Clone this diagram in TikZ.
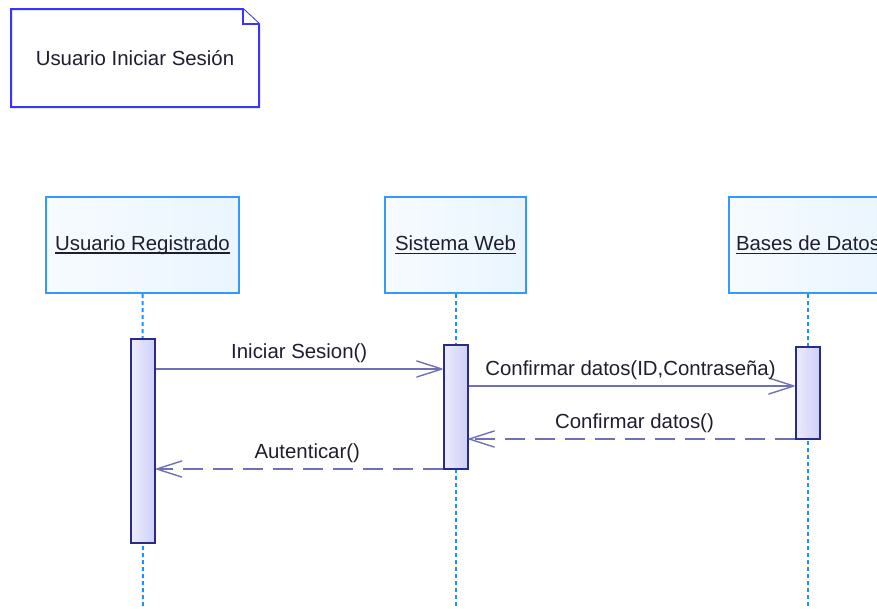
\documentclass[tikz,border=0pt]{standalone}
\usepackage{fontspec}
\setmainfont{Liberation Sans}
\usetikzlibrary{arrows.meta,calc}
\definecolor{notecol}{HTML}{3535FF}
\definecolor{headcol}{HTML}{3399FF}
\definecolor{headl}{HTML}{F7FBFF}
\definecolor{headr}{HTML}{EAF5FF}
\definecolor{lifecol}{HTML}{1E90FF}
\definecolor{actcol}{HTML}{2A2A8A}
\definecolor{actl}{HTML}{ECECFF}
\definecolor{actr}{HTML}{CFCFF7}
\definecolor{msgcol}{HTML}{7070B4}
\definecolor{txtcol}{HTML}{1E1E2E}
\newsavebox\ulbox
\newcommand\ulname[1]{\sbox\ulbox{#1}\rlap{\rule[-3.5pt]{\wd\ulbox}{1.4pt}}\usebox\ulbox}
\begin{document}
\begin{tikzpicture}[x=1pt,y=-1pt,
  font=\fontsize{20.4}{24}\selectfont, text=txtcol,
  notebox/.style={draw=notecol, line width=2pt, fill=white, line join=miter},
  head/.style={draw=headcol, line width=2pt, left color=headl, right color=headr,
    minimum height=96pt, inner sep=0pt},
  act/.style={draw=actcol, line width=2pt, left color=actl, right color=actr,
    minimum width=24pt, inner sep=0pt},
  lifeline/.style={draw=lifecol, line width=2pt, dash pattern=on 4pt off 3pt},
  msg/.style={draw=msgcol, line width=1.4pt,
    -{Straight Barb[length=25pt,width=16pt,round]}},
  ret/.style={msg, dash pattern=on 20pt off 10pt},
  mlabel/.style={anchor=base, inner sep=0pt}]
\useasboundingbox (0,0) rectangle (877,608);
\clip (0,0) rectangle (877,608);

% note
\draw[notebox] (11,9) -- (243,9) -- (259,24) -- (259,107) -- (11,107) -- cycle;
\draw[notebox] (243,9) -- (243,24) -- (259,24);
\node[inner sep=0pt] (note) at (135,58) {Usuario Iniciar Sesión};

% lifeline heads
\node[head, minimum width=193pt] (ur) at (142.5,245) {\ulname{Usuario Registrado}};
\node[head, minimum width=141pt] (sw) at (455.5,245) {\ulname{Sistema Web}};
\node[head, minimum width=158pt] (bd) at (808,245) {\ulname{Bases de Datos}};

% lifelines
\coordinate (urend) at (143,610);
\coordinate (swend) at (455.5,610);
\coordinate (bdend) at (808,610);
\draw[lifeline] (ur.south) -- (urend);
\draw[lifeline] (sw.south) -- (swend);
\draw[lifeline] (bd.south) -- (bdend);

% activations
\node[act, minimum height=204pt] (a1) at (143,441) {};
\node[act, minimum height=124pt] (a2) at (455.5,407) {};
\node[act, minimum height=92pt] (a3) at (807.5,393) {};

% messages
\draw[msg] (a1.east |- 0,369) -- (a2.west |- 0,369)
  node[mlabel, midway, yshift=11pt] (m1) {Iniciar Sesion()};
\draw[msg] (a2.east |- 0,386) -- (a3.west |- 0,386)
  node[mlabel, midway, yshift=11pt, xshift=-1pt] (m2) {Confirmar datos(ID,Contraseña)};
\draw[ret] (a3.west |- 0,439) -- (a2.east |- 0,439)
  node[mlabel, midway, yshift=11pt, xshift=3pt] (m3) {Confirmar datos()};
\draw[ret] (a2.west |- 0,469) -- (a1.east |- 0,469)
  node[mlabel, midway, yshift=11pt, xshift=8pt] (m4) {Autenticar()};
\end{tikzpicture}
\end{document}
